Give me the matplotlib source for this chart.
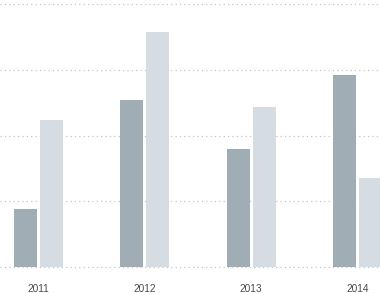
import numpy as np
import matplotlib.pyplot as plt

# data
years = ['2011', '2012', '2013', '2014']
series_a = [22, 63.5, 45, 73]
series_b = [56, 89.5, 61, 34]

color_a = '#a1adb5'
color_b = '#d5dce2'

fig = plt.figure(figsize=(3.8, 2.93), dpi=100)
ax = fig.add_axes([0, 26 / 293, 1, 264 / 293])

x = np.arange(len(years))
w = 0.216
off = 0.122
ax.bar(x - off, series_a, width=w, color=color_a, zorder=2)
ax.bar(x + off, series_b, width=w, color=color_b, zorder=2)

ax.set_xlim(-0.362, 3.212)
ax.set_ylim(0, 100.4)
ax.set_yticks([0, 25, 50, 75, 100])
ax.yaxis.grid(True, color='#c4c4c4', linestyle=(0, (1, 2.5)), linewidth=0.9, zorder=0)
for ln in ax.get_ygridlines():
    ln.set_clip_on(False)
ax.set_axisbelow(True)
ax.set_yticklabels([])
ax.tick_params(axis='y', length=0)

ax.set_xticks(x)
ax.set_xticklabels(years, fontfamily='Liberation Sans', fontsize=7.3, color='#4a4a4a')
ax.tick_params(axis='x', length=0, pad=12)

for s in ax.spines.values():
    s.set_visible(False)

fig.savefig('out.png', dpi=100)
